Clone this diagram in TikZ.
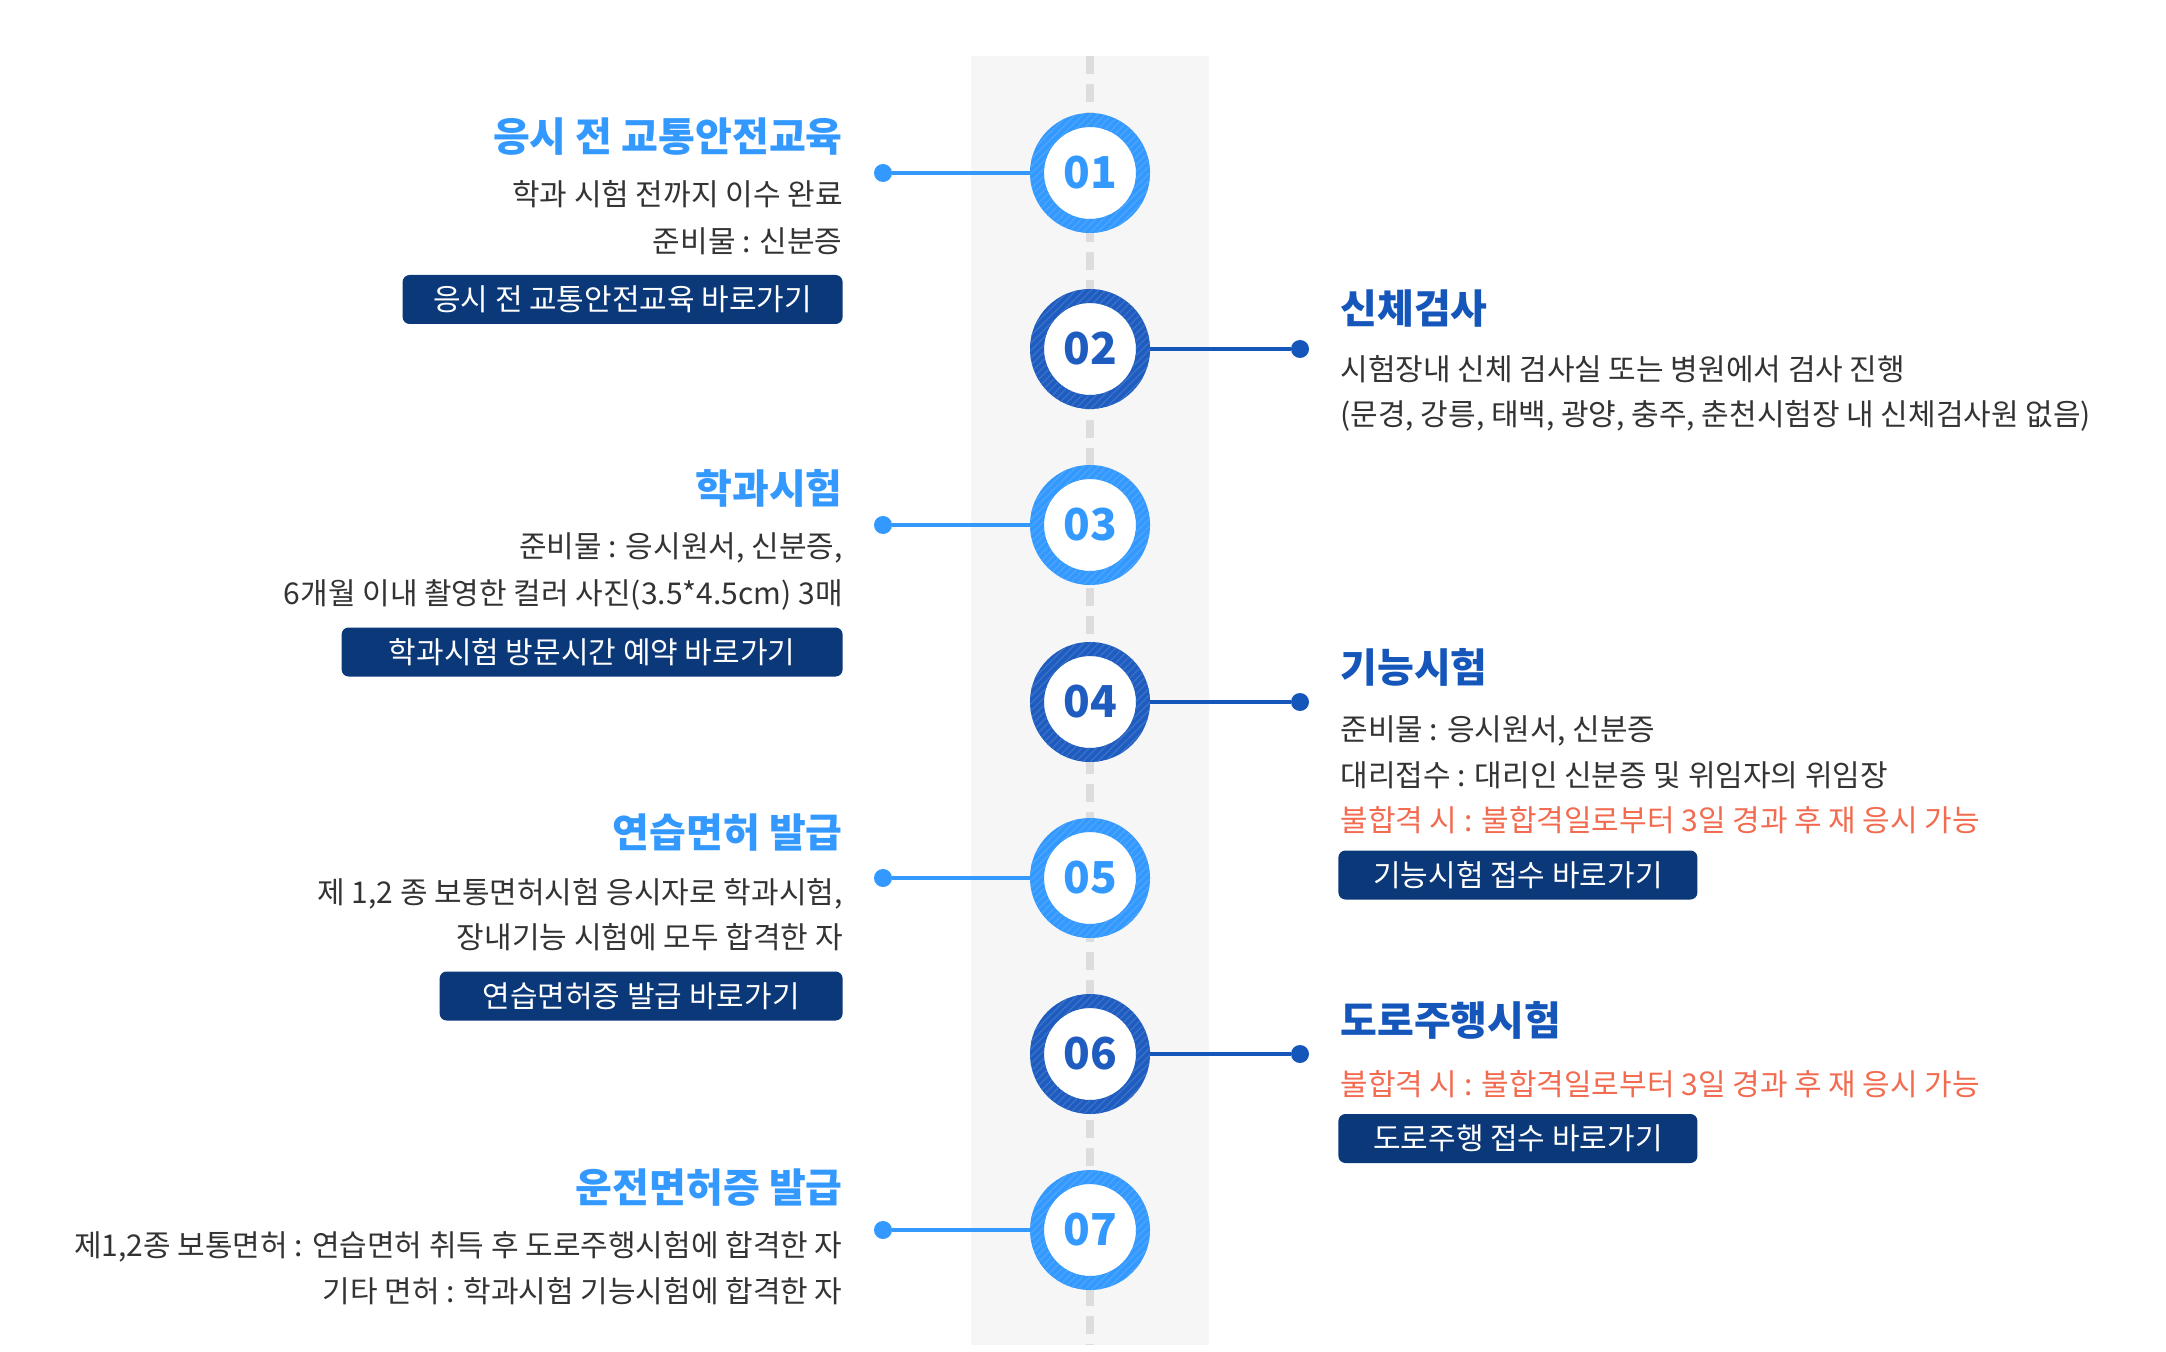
\documentclass[tikz,border=0pt]{standalone}
\usepackage{fontspec}
\setmainfont{Noto Sans CJK KR}
\usetikzlibrary{patterns.meta}
\definecolor{lb}{HTML}{3399FF}
\definecolor{db}{HTML}{1E5CC0}
\definecolor{dbt}{HTML}{1556BB}
\definecolor{btnc}{HTML}{0B3878}
\definecolor{redc}{HTML}{F26B50}
\definecolor{bodyc}{HTML}{333333}
\definecolor{bandc}{HTML}{F6F6F6}
\definecolor{dashc}{HTML}{DDDDDD}
\tikzset{
  ttl/.style={font=\fontsize{20pt}{24pt}\selectfont\bfseries, inner sep=0pt, text=#1},
  txt/.style={font=\fontsize{15pt}{18pt}\selectfont, text=bodyc, inner sep=0pt},
  redtxt/.style={font=\fontsize{15pt}{18pt}\selectfont, text=redc, inner sep=0pt},
  btn/.style={fill=btnc, rounded corners=3.5pt, text=white, font=\fontsize{15pt}{18pt}\selectfont, minimum height=24.5pt, inner sep=0pt},
  ringnode/.style={circle, draw=#1, line width=7pt, fill=white, minimum size=53pt, inner sep=0pt, text=#1, font=\fontsize{22pt}{24pt}\selectfont\bfseries},
  dotnode/.style={circle, fill=#1, minimum size=9pt, inner sep=0pt},
  conn/.style={draw=#1, line width=2pt},
  stripes/.style={pattern={Lines[angle=45,distance=2.6pt,line width=0.7pt]}, pattern color=#1!88!white, even odd rule}
}
\begin{document}
\begin{tikzpicture}[x=0.5pt,y=-0.5pt]
\useasboundingbox (0,0) rectangle (2166,1352);
% band and dashed axis
\fill[bandc] (971,56) rectangle (1209,1345);
\coordinate (axtop) at (1090,56);
\coordinate (axbot) at (1090,1345);
\draw[dashc, line width=4pt, dash pattern=on 9pt off 5pt] (axtop) -- (axbot);

% dots
\node[dotnode=lb] (d1) at (883,173) {};
\node[dotnode=dbt] (d2) at (1300,349) {};
\node[dotnode=lb] (d3) at (883,525) {};
\node[dotnode=dbt] (d4) at (1300,702) {};
\node[dotnode=lb] (d5) at (883,878) {};
\node[dotnode=dbt] (d6) at (1300,1054) {};
\node[dotnode=lb] (d7) at (883,1230) {};

% circles
\node[ringnode=lb] (c1) at (1090,173) {01};
\node[ringnode=db] (c2) at (1090,349) {02};
\node[ringnode=lb] (c3) at (1090,525) {03};
\node[ringnode=db] (c4) at (1090,702) {04};
\node[ringnode=lb] (c5) at (1090,878) {05};
\node[ringnode=db] (c6) at (1090,1054) {06};
\node[ringnode=lb] (c7) at (1090,1230) {07};
\foreach \n/\col in {1/lb,2/db,3/lb,4/db,5/lb,6/db,7/lb}{
  \fill[stripes=\col] (c\n.center) circle[radius=30pt] (c\n.center) circle[radius=23pt];
}

% connectors
\draw[conn=lb] (c1) -- (d1);
\draw[conn=dbt] (c2) -- (d2);
\draw[conn=lb] (c3) -- (d3);
\draw[conn=dbt] (c4) -- (d4);
\draw[conn=lb] (c5) -- (d5);
\draw[conn=dbt] (c6) -- (d6);
\draw[conn=lb] (c7) -- (d7);

% 01
\node[ttl=lb, anchor=base east] (t1) at (843,152) {응시 전 교통안전교육};
\node[txt, anchor=base east] (t1a) at (843,206) {학과 시험 전까지 이수 완료};
\node[txt, anchor=base east] (t1b) at (843,253) {준비물 : 신분증};
\node[btn, minimum width=220pt, anchor=east] (b1) at (843,299.5) {응시 전 교통안전교육 바로가기};

% 02
\node[ttl=dbt, anchor=base west] (t2) at (1340,324) {신체검사};
\node[txt, anchor=base west] (t2a) at (1340,381) {시험장내 신체 검사실 또는 병원에서 검사 진행};
\node[txt, anchor=base west] (t2b) at (1340,426) {(문경, 강릉, 태백, 광양, 충주, 춘천시험장 내 신체검사원 없음)};

% 03
\node[ttl=lb, anchor=base east] (t3) at (843,503) {학과시험};
\node[txt, anchor=base east] (t3a) at (843,557) {준비물 : 응시원서, 신분증,};
\node[txt, anchor=base east] (t3b) at (843,604) {6개월 이내 촬영한 컬러 사진(3.5*4.5cm) 3매};
\node[btn, minimum width=250.5pt, anchor=east] (b3) at (843,652) {학과시험 방문시간 예약 바로가기};

% 04
\node[ttl=dbt, anchor=base west] (t4) at (1340,682) {기능시험};
\node[txt, anchor=base west] (t4a) at (1340,740) {준비물 : 응시원서, 신분증};
\node[txt, anchor=base west] (t4b) at (1340,786) {대리접수 : 대리인 신분증 및 위임자의 위임장};
\node[redtxt, anchor=base west] (t4c) at (1340,831) {불합격 시 : 불합격일로부터 3일 경과 후 재 응시 가능};
\node[btn, minimum width=179.5pt, anchor=west] (b4) at (1338,875) {기능시험 접수 바로가기};

% 05
\node[ttl=lb, anchor=base east] (t5) at (843,847) {연습면허 발급};
\node[txt, anchor=base east] (t5a) at (843,903) {제 1,2 종 보통면허시험 응시자로 학과시험,};
\node[txt, anchor=base east] (t5b) at (843,948) {장내기능 시험에 모두 합격한 자};
\node[btn, minimum width=201.5pt, anchor=east] (b5) at (843,996) {연습면허증 발급 바로가기};

% 06
\node[ttl=dbt, anchor=base west] (t6) at (1340,1035) {도로주행시험};
\node[redtxt, anchor=base west] (t6a) at (1340,1095) {불합격 시 : 불합격일로부터 3일 경과 후 재 응시 가능};
\node[btn, minimum width=179.5pt, anchor=west] (b6) at (1338,1138.5) {도로주행 접수 바로가기};

% 07
\node[ttl=lb, anchor=base east] (t7) at (843,1202) {운전면허증 발급};
\node[txt, anchor=base east] (t7a) at (843,1256) {제1,2종 보통면허 : 연습면허 취득 후 도로주행시험에 합격한 자};
\node[txt, anchor=base east] (t7b) at (843,1302) {기타 면허 : 학과시험 기능시험에 합격한 자};
\end{tikzpicture}
\end{document}
